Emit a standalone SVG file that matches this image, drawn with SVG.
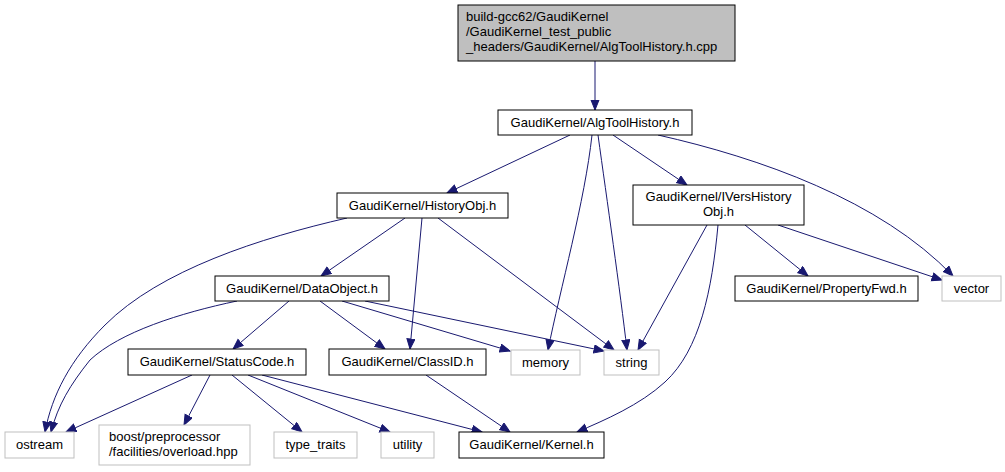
<svg xmlns="http://www.w3.org/2000/svg" width="1005" height="472" viewBox="0 0 1005 472">
<style>
.n rect{fill:#ffffff;stroke:#000000;stroke-width:1}
.g rect{fill:#ffffff;stroke:#bfbfbf;stroke-width:1}
.top rect{fill:#bfbfbf;stroke:#000000;stroke-width:1}
text{font-family:"Liberation Sans",Arial,sans-serif;font-size:13px;fill:#000000}
.c{text-anchor:middle}
.l{text-anchor:start}
#edges path{fill:none;stroke:#191970;stroke-width:1;marker-end:url(#arr)}
</style>
<defs>
<marker id="arr" markerUnits="userSpaceOnUse" markerWidth="12" markerHeight="10" refX="10.5" refY="4.5" orient="auto" viewBox="0 0 12 10">
<path d="M0.5,0.5 L10.5,4.5 L0.5,8.5 z" fill="#191970" stroke="#191970" stroke-width="1"/>
</marker>
</defs>
<rect width="1005" height="472" fill="#ffffff"/>
<g id="edges">
<path d="M595,61 L595,110"/>
<path d="M570,135 L447,193"/>
<path d="M592,135 C585,200 560,290 548,350"/>
<path d="M598,135 C607,200 620,290 627,350"/>
<path d="M613,135 L687,185"/>
<path d="M658,135 C760,158 880,200 953,276"/>
<path d="M347,218 C260,238 160,270 105,325 C70,360 52,395 45,432"/>
<path d="M405,218 L321,276"/>
<path d="M422,218 L410,349"/>
<path d="M438,218 L614,350"/>
<path d="M237,301 C180,313 120,332 90,360 C70,385 58,405 51,432"/>
<path d="M289,301 L233,349"/>
<path d="M320,301 L385,349"/>
<path d="M342,301 L510,351"/>
<path d="M365,301 L604,351"/>
<path d="M192,375 L66,432"/>
<path d="M210,375 L184,425"/>
<path d="M232,375 L302,432"/>
<path d="M248,375 L390,432"/>
<path d="M262,375 L482,432"/>
<path d="M426,375 L510,432"/>
<path d="M707,225 L638,350"/>
<path d="M718,225 C712,290 700,350 665,382 C640,405 605,420 577,432"/>
<path d="M745,225 L808,276"/>
<path d="M778,225 L942,280"/>
</g>
<g id="node_top" class="top">
<rect x="458" y="5" width="277" height="56"/>
<text class="l" x="466" y="21">build-gcc62/GaudiKernel</text>
<text class="l" x="466" y="36">/GaudiKernel_test_public</text>
<text class="l" x="466" y="51">_headers/GaudiKernel/AlgToolHistory.h.cpp</text>
</g>
<g id="node_algtoolhistory" class="n">
<rect x="498" y="110" width="194" height="25"/>
<text class="c" x="595" y="127">GaudiKernel/AlgToolHistory.h</text>
</g>
<g id="node_historyobj" class="n">
<rect x="337" y="193" width="171" height="25"/>
<text class="c" x="422.5" y="210">GaudiKernel/HistoryObj.h</text>
</g>
<g id="node_ivershistoryobj" class="n">
<rect x="633" y="185" width="171" height="40"/>
<text class="c" x="718.5" y="201">GaudiKernel/IVersHistory</text>
<text class="c" x="718.5" y="216">Obj.h</text>
</g>
<g id="node_dataobject" class="n">
<rect x="215" y="276" width="174" height="25"/>
<text class="c" x="302" y="293">GaudiKernel/DataObject.h</text>
</g>
<g id="node_propertyfwd" class="n">
<rect x="735" y="276" width="183" height="25"/>
<text class="c" x="826.5" y="293">GaudiKernel/PropertyFwd.h</text>
</g>
<g id="node_vector" class="g">
<rect x="942" y="276" width="59" height="25"/>
<text class="c" x="971.5" y="293">vector</text>
</g>
<g id="node_statuscode" class="n">
<rect x="128" y="349" width="178" height="26"/>
<text class="c" x="217" y="366">GaudiKernel/StatusCode.h</text>
</g>
<g id="node_classid" class="n">
<rect x="329" y="349" width="157" height="26"/>
<text class="c" x="407.5" y="366">GaudiKernel/ClassID.h</text>
</g>
<g id="node_memory" class="g">
<rect x="511" y="350" width="69" height="25"/>
<text class="c" x="545.5" y="367">memory</text>
</g>
<g id="node_string" class="g">
<rect x="604" y="350" width="55" height="25"/>
<text class="c" x="631.5" y="367">string</text>
</g>
<g id="node_ostream" class="g">
<rect x="5" y="432" width="69" height="26"/>
<text class="c" x="39.5" y="449">ostream</text>
</g>
<g id="node_boost" class="g">
<rect x="99" y="425" width="151" height="40"/>
<text class="l" x="109" y="441">boost/preprocessor</text>
<text class="l" x="109" y="456">/facilities/overload.hpp</text>
</g>
<g id="node_typetraits" class="g">
<rect x="274" y="432" width="83" height="26"/>
<text class="c" x="315.5" y="449">type_traits</text>
</g>
<g id="node_utility" class="g">
<rect x="381" y="432" width="53" height="26"/>
<text class="c" x="407.5" y="449">utility</text>
</g>
<g id="node_kernel" class="n">
<rect x="459" y="432" width="145" height="26"/>
<text class="c" x="531.5" y="449">GaudiKernel/Kernel.h</text>
</g>
</svg>
